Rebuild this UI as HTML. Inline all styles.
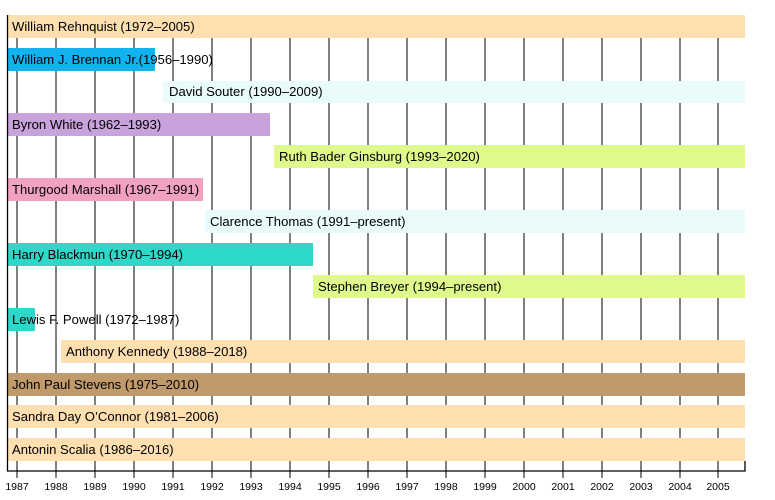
<!DOCTYPE html>
<html><head><meta charset="utf-8"><style>body{margin:0;background:#fff}svg{display:block}text{font-family:"Liberation Sans",sans-serif}</style></head>
<body>
<svg width="775" height="500" xmlns="http://www.w3.org/2000/svg">
<g stroke="#000" stroke-width="1" id="grid">
<line x1="17" y1="15" x2="17" y2="478"/><line x1="56" y1="15" x2="56" y2="478"/><line x1="95" y1="15" x2="95" y2="478"/><line x1="134" y1="15" x2="134" y2="478"/><line x1="173" y1="15" x2="173" y2="478"/><line x1="212" y1="15" x2="212" y2="478"/><line x1="251" y1="15" x2="251" y2="478"/><line x1="290" y1="15" x2="290" y2="478"/><line x1="329" y1="15" x2="329" y2="478"/><line x1="368" y1="15" x2="368" y2="478"/><line x1="407" y1="15" x2="407" y2="478"/><line x1="446" y1="15" x2="446" y2="478"/><line x1="485" y1="15" x2="485" y2="478"/><line x1="524" y1="15" x2="524" y2="478"/><line x1="563" y1="15" x2="563" y2="478"/><line x1="602" y1="15" x2="602" y2="478"/><line x1="641" y1="15" x2="641" y2="478"/><line x1="680" y1="15" x2="680" y2="478"/><line x1="718" y1="15" x2="718" y2="478"/>
</g>
<g>
<rect x="7" y="15" width="738" height="23" fill="#fedfb0"/>
<rect x="7" y="48" width="148" height="23" fill="#12b2ee"/>
<rect x="163" y="81" width="582" height="22" fill="#e9fbfb"/>
<rect x="7" y="113" width="263" height="23" fill="#c8a2dc"/>
<rect x="274" y="145" width="471" height="23" fill="#e0f98c"/>
<rect x="7" y="178" width="196" height="23" fill="#f2a2c0"/>
<rect x="205" y="210" width="540" height="23" fill="#e9fbfb"/>
<rect x="7" y="243" width="306" height="23" fill="#2ed8c8"/>
<rect x="313" y="275" width="432" height="23" fill="#e0f98c"/>
<rect x="7" y="308" width="28" height="23" fill="#2ed8c8"/>
<rect x="61" y="340" width="684" height="23" fill="#fedfb0"/>
<rect x="7" y="373" width="738" height="23" fill="#c09a6b"/>
<rect x="7" y="405" width="738" height="23" fill="#fedfb0"/>
<rect x="7" y="438" width="738" height="23" fill="#fedfb0"/>
</g>
<g font-size="13.1" fill="#000">
<text x="12" y="31">William Rehnquist (1972–2005)</text>
<text x="12" y="64">William J. Brennan Jr.(1956–1990)</text>
<text x="169" y="96">David Souter (1990–2009)</text>
<text x="12" y="129">Byron White (1962–1993)</text>
<text x="279" y="161">Ruth Bader Ginsburg (1993–2020)</text>
<text x="12" y="194">Thurgood Marshall (1967–1991)</text>
<text x="210" y="226">Clarence Thomas (1991–present)</text>
<text x="12" y="259">Harry Blackmun (1970–1994)</text>
<text x="318" y="291">Stephen Breyer (1994–present)</text>
<text x="12" y="324">Lewis F. Powell (1972–1987)</text>
<text x="66" y="356">Anthony Kennedy (1988–2018)</text>
<text x="12" y="389">John Paul Stevens (1975–2010)</text>
<text x="12" y="421">Sandra Day O’Connor (1981–2006)</text>
<text x="12" y="454">Antonin Scalia (1986–2016)</text>
</g>
<g stroke="#000" stroke-width="1.3" fill="none">
<polyline points="7.5,15 7.5,471 745,471 745,461"/>
</g>
<g font-size="10.5" fill="#000" text-anchor="middle">
<text x="17" y="490">1987</text><text x="56" y="490">1988</text><text x="95" y="490">1989</text><text x="134" y="490">1990</text><text x="173" y="490">1991</text><text x="212" y="490">1992</text><text x="251" y="490">1993</text><text x="290" y="490">1994</text><text x="329" y="490">1995</text><text x="368" y="490">1996</text><text x="407" y="490">1997</text><text x="446" y="490">1998</text><text x="485" y="490">1999</text><text x="524" y="490">2000</text><text x="563" y="490">2001</text><text x="602" y="490">2002</text><text x="641" y="490">2003</text><text x="680" y="490">2004</text><text x="718" y="490">2005</text>
</g>
</svg>
</body></html>
